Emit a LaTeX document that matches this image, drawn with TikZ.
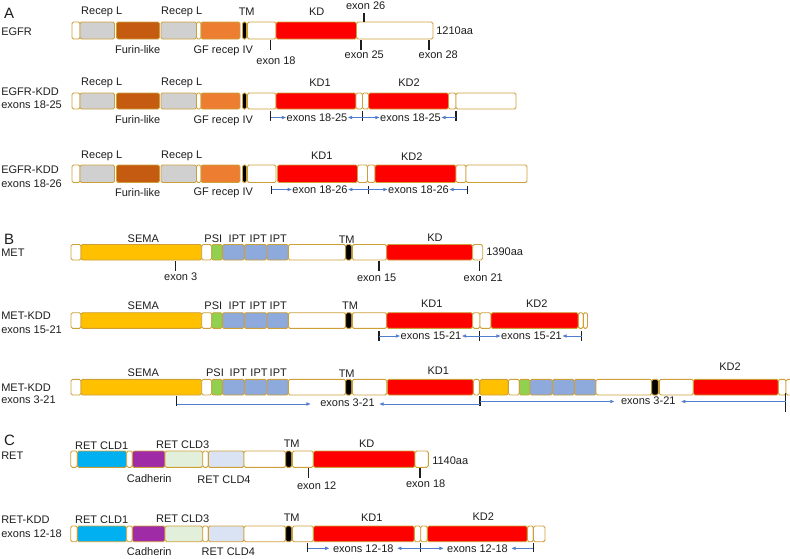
\documentclass[tikz,border=0pt]{standalone}
\usepackage{fontspec}
\setmainfont{Liberation Sans}
\usetikzlibrary{arrows.meta}
\definecolor{gold}{RGB}{205,160,55}
\definecolor{txt}{RGB}{30,30,30}
\definecolor{recgrey}{RGB}{208,208,208}
\definecolor{furin}{RGB}{197,90,17}
\definecolor{gforange}{RGB}{237,125,49}
\definecolor{kdred}{RGB}{255,0,0}
\definecolor{sema}{RGB}{255,192,0}
\definecolor{psi}{RGB}{146,208,80}
\definecolor{ipt}{RGB}{142,169,219}
\definecolor{cldone}{RGB}{0,176,240}
\definecolor{cadh}{RGB}{160,43,166}
\definecolor{cldthree}{RGB}{226,239,218}
\definecolor{cldfour}{RGB}{218,227,243}
\definecolor{arrblue}{RGB}{80,125,205}
\newcounter{lc}
\newcommand\sg[3]{\draw[seg,fill=#3] (#1,\ya) rectangle (#2,\yb);}
\newcommand\lab[3]{\stepcounter{lc}\node[lbl] (l\arabic{lc}) at (#1,#2) {#3};}
\newcommand\labw[3]{\stepcounter{lc}\node[lbl,anchor=west] (l\arabic{lc}) at (#1,#2) {#3};}
\newcommand\tk[3]{\draw[tick] (#1,#2) -- (#1,#3);}
\newcommand\egfrleft{%
\sg{72}{80}{white}\sg{80}{114.5}{recgrey}\sg{116.5}{159.5}{furin}%
\sg{161}{196.5}{recgrey}\sg{196.5}{201}{white}\sg{201}{240}{gforange}%
\sg{242.5}{246.5}{black}\sg{247.5}{276}{white}}
\newcommand\metleft{%
\sg{71}{81}{white}\sg{81}{201.7}{sema}\sg{201.7}{211.7}{white}\sg{211.7}{222.3}{psi}%
\sg{222.3}{244.3}{ipt}\sg{244.3}{266.7}{ipt}\sg{266.7}{288.3}{ipt}%
\sg{288.3}{345.7}{white}\sg{345.7}{351.7}{black}\sg{352.3}{386.7}{white}}
\newcommand\retleft{%
\sg{70.7}{77.3}{white}\sg{77.3}{126.7}{cldone}\sg{126.7}{132.3}{white}%
\sg{132.3}{165}{cadh}\sg{165}{202.7}{cldthree}\sg{202.7}{208.3}{white}%
\sg{208.3}{244}{cldfour}\sg{244}{285.7}{white}\sg{285.7}{291.7}{black}\sg{292.3}{313.3}{white}}
\begin{document}
\begin{tikzpicture}[x=1pt,y=-1pt,
  seg/.style={draw=gold,line width=0.9pt,rounded corners=1.6pt},
  lbl/.style={inner sep=0.6pt,text=txt,font=\fontsize{11}{12}\selectfont},
  sec/.style={inner sep=0pt,text=txt,anchor=west,font=\fontsize{15}{16}\selectfont},
  tick/.style={draw=txt,line width=1.3pt},
  arr/.style={draw=arrblue,line width=0.7pt,-{Triangle[length=4pt,width=3.2pt]}}]
\useasboundingbox (0,0) rectangle (790,558);
\fill[white] (0,0) rectangle (790,558);
% ================= A =================
\node[sec] (secA) at (4,13) {A};
% EGFR
\def\ya{22}\def\yb{39}
\egfrleft
\sg{276}{356.5}{kdred}\sg{356.5}{433}{white}
\labw{0.5}{32}{EGFR}
\lab{101.7}{12.3}{Recep L}\lab{181.7}{12.3}{Recep L}\lab{246.7}{12}{TM}\lab{316.7}{12}{KD}
\lab{365.7}{6}{exon 26}\tk{364}{13}{22}
\lab{137.7}{49.3}{Furin-like}\lab{223.3}{50.7}{GF recep IV}
\tk{270.7}{40}{50}\lab{276}{61}{exon 18}
\tk{361}{40}{50}\lab{364.3}{54.3}{exon 25}
\tk{429}{40}{50}\lab{438.3}{54.3}{exon 28}
\labw{435.5}{31}{1210aa}
% EGFR-KDD 18-25
\def\ya{93}\def\yb{109}
\egfrleft
\sg{276}{356}{kdred}\sg{356}{362.5}{white}\sg{362.5}{368.5}{white}
\sg{368.5}{448.5}{kdred}\sg{448.5}{456}{white}\sg{456}{516}{white}
\labw{0.5}{91.7}{EGFR-KDD}\labw{0.5}{105}{exons 18-25}
\lab{101.7}{83}{Recep L}\lab{181.7}{83}{Recep L}\lab{320}{83}{KD1}\lab{409}{83}{KD2}
\lab{137.7}{119.3}{Furin-like}\lab{223.3}{120.7}{GF recep IV}
\tk{270.7}{111}{121}\tk{362.7}{111}{121}\tk{456}{111}{121}
\node[lbl] (ea1) at (317,117.5) {exons 18-25};
\node[lbl] (ea2) at (410.5,117.5) {exons 18-25};
\coordinate (ka1) at (270.7,117.5);\coordinate (ka2) at (362.7,117.5);\coordinate (ka3) at (456,117.5);
\draw[arr] (ka1) -- (ea1.west);\draw[arr] (ka2) -- (ea1.east);
\draw[arr] (ka2) -- (ea2.west);\draw[arr] (ka3) -- (ea2.east);
% EGFR-KDD 18-26
\def\ya{165}\def\yb{182.5}
\egfrleft
\sg{277.5}{357.5}{kdred}\sg{357.5}{367.5}{white}\sg{367.5}{375}{white}
\sg{375}{456}{kdred}\sg{456}{466}{white}\sg{466}{527}{white}
\labw{0.5}{170}{EGFR-KDD}\labw{0.5}{184}{exons 18-26}
\lab{101.7}{156}{Recep L}\lab{181.7}{156}{Recep L}\lab{321.7}{156}{KD1}\lab{411.7}{156.7}{KD2}
\lab{137.7}{192.3}{Furin-like}\lab{223.3}{193}{GF recep IV}
\tk{271.7}{186}{193.5}\tk{368.3}{186}{193.5}\tk{467.3}{186}{193.5}
\node[lbl] (eb1) at (320,189.5) {exon 18-26};
\node[lbl] (eb2) at (418.5,189.5) {exons 18-26};
\coordinate (kb1) at (271.7,189.5);\coordinate (kb2) at (368.3,189.5);\coordinate (kb3) at (467.3,189.5);
\draw[arr] (kb1) -- (eb1.west);\draw[arr] (kb2) -- (eb1.east);
\draw[arr] (kb2) -- (eb2.west);\draw[arr] (kb3) -- (eb2.east);
% ================= B =================
\node[sec] (secB) at (4,239) {B};
% MET
\def\ya{244.5}\def\yb{260}
\metleft
\sg{386.7}{472.7}{kdred}\sg{472.7}{482.7}{white}
\labw{0.5}{252.3}{MET}
\lab{143.3}{238.5}{SEMA}\lab{213.3}{238.5}{PSI}\lab{237.3}{238.5}{IPT}\lab{258.3}{238.5}{IPT}\lab{278.3}{238.5}{IPT}
\lab{346.7}{240}{TM}\lab{435}{238}{KD}
\labw{485.5}{251.5}{1390aa}
\tk{175.7}{261}{271}\lab{180.7}{277}{exon 3}
\tk{379}{261}{271}\lab{376.7}{278}{exon 15}
\tk{479.3}{261}{271}\lab{483.3}{278}{exon 21}
% MET-KDD 15-21
\def\ya{312.7}\def\yb{328.3}
\metleft
\sg{386.7}{472.7}{kdred}\sg{472.7}{480}{white}\sg{480}{491}{white}
\sg{491}{578.3}{kdred}\sg{578.3}{583.3}{white}\sg{583.3}{587.5}{white}
\labw{0.5}{316}{MET-KDD}\labw{0.5}{329.3}{exons 15-21}
\lab{143.3}{306}{SEMA}\lab{213.3}{306}{PSI}\lab{237.3}{306}{IPT}\lab{258.3}{306}{IPT}\lab{278.3}{306}{IPT}
\lab{350}{306}{TM}\lab{431.7}{303.5}{KD1}\lab{536.7}{303.5}{KD2}
\tk{379}{331}{341}\tk{479.3}{331}{341}\tk{581.7}{331}{341}
\node[lbl] (ec1) at (431,336) {exons 15-21};
\node[lbl] (ec2) at (531.5,336) {exons 15-21};
\coordinate (kc1) at (379,336);\coordinate (kc2) at (479.3,336);\coordinate (kc3) at (581.7,336);
\draw[arr] (kc1) -- (ec1.west);\draw[arr] (kc2) -- (ec1.east);
\draw[arr] (kc2) -- (ec2.west);\draw[arr] (kc3) -- (ec2.east);
% MET-KDD 3-21
\def\ya{379.3}\def\yb{395}
\metleft
\sg{387.3}{473.3}{kdred}\sg{473.3}{479.3}{white}
\sg{480}{508.3}{sema}\sg{508.3}{519.3}{white}\sg{519.3}{530}{psi}
\sg{530}{552.3}{ipt}\sg{552.3}{574.3}{ipt}\sg{574.3}{596}{ipt}
\sg{596}{651.7}{white}\sg{651.7}{658.3}{black}\sg{659.3}{693.3}{white}
\sg{693.3}{778.3}{kdred}\sg{778.3}{786}{white}\sg{786}{796}{white}
\labw{0.5}{387.3}{MET-KDD}\labw{0.5}{400}{exons 3-21}
\lab{143.3}{372.7}{SEMA}\lab{215}{372.7}{PSI}\lab{238.3}{372.7}{IPT}\lab{259}{372.7}{IPT}\lab{278.3}{372.7}{IPT}
\lab{346.7}{374}{TM}\lab{438.3}{370.7}{KD1}\lab{730}{366.7}{KD2}
\tk{176.7}{396}{406}\tk{480}{396}{406}\tk{785.7}{393}{411.7}
\node[lbl] (ed1) at (347.5,402.7) {exons 3-21};
\node[lbl] (ed2) at (648.3,401) {exons 3-21};
\coordinate (kd1) at (176.7,404);\coordinate (kd2) at (480,404);
\coordinate (kd3) at (480,401.5);\coordinate (kd4) at (785.7,401.5);
\draw[arr,shorten >=9pt] (kd1) -- (ed1.west |- kd1);\draw[arr,shorten >=4pt] (kd2) -- (ed1.east |- kd2);
\draw[arr,shorten >=6pt] (kd3) -- (ed2.west |- kd3);\draw[arr,shorten >=5pt] (kd4) -- (ed2.east |- kd4);
% ================= C =================
\node[sec] (secC) at (4,440) {C};
% RET
\def\ya{451}\def\yb{467.3}
\retleft
\sg{313.3}{415}{kdred}\sg{415}{428.3}{white}
\labw{0.5}{456}{RET}
\lab{101.7}{446}{RET CLD1}\lab{182.7}{445}{RET CLD3}\lab{291.7}{443.3}{TM}\lab{366.7}{443.3}{KD}
\lab{149.3}{478.3}{Cadherin}\lab{224}{480}{RET CLD4}
\labw{431.5}{460.7}{1140aa}
\tk{308.3}{468}{478}\lab{316.7}{485.7}{exon 12}
\tk{420}{468}{478}\lab{425.7}{483.3}{exon 18}
% RET-KDD
\def\ya{526}\def\yb{541.7}
\retleft
\sg{313.3}{414.3}{kdred}\sg{414.3}{420.7}{white}\sg{420.7}{427.3}{white}
\sg{427.3}{527.3}{kdred}\sg{527.3}{533.3}{white}\sg{533.3}{545}{white}
\labw{0.5}{520}{RET-KDD}\labw{0.5}{534}{exons 12-18}
\lab{101.7}{520}{RET CLD1}\lab{182.7}{519}{RET CLD3}\lab{291.7}{517.7}{TM}\lab{371.7}{517.7}{KD1}\lab{483.3}{516.7}{KD2}
\lab{149.3}{551.6}{Cadherin}\lab{228.3}{551.6}{RET CLD4}
\tk{307.7}{543.3}{552.3}\tk{420.7}{543.3}{552.3}\tk{533.3}{543.3}{552.3}
\node[lbl] (ee1) at (363.3,548.3) {exons 12-18};
\node[lbl] (ee2) at (477.5,548.3) {exons 12-18};
\coordinate (ke1) at (307.7,548.3);\coordinate (ke2) at (420.7,548.3);\coordinate (ke3) at (533.3,548.3);
\draw[arr,shorten >=3pt] (ke1) -- (ee1.west);\draw[arr,shorten >=3pt] (ke2) -- (ee1.east);
\draw[arr,shorten >=3pt] (ke2) -- (ee2.west);\draw[arr,shorten >=3pt] (ke3) -- (ee2.east);
\end{tikzpicture}
\end{document}
